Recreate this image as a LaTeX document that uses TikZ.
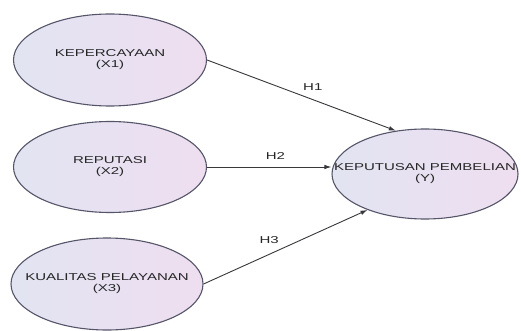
\documentclass[tikz,border=0pt]{standalone}
\usepackage{fontspec}
\setsansfont[FakeStretch=1.5]{Liberation Sans}
\usetikzlibrary{shapes.geometric,arrows.meta}
\definecolor{lavleft}{RGB}{226,228,242}
\definecolor{lavright}{RGB}{238,222,240}
\definecolor{rim}{RGB}{85,85,105}
\definecolor{wire}{RGB}{55,55,60}

\begin{document}
\begin{tikzpicture}[x=1pt,y=-1pt,
    latent/.style={ellipse, draw=rim, line width=1.1pt, left color=lavleft, right color=lavright, inner sep=0pt},
    vartext/.style={align=center, inner sep=0pt, text=black!85, font=\sffamily\fontsize{10}{11}\selectfont},
    hyp/.style={draw=wire, line width=0.9pt, -{Latex[length=7pt,width=4.5pt]}},
    hlabel/.style={inner sep=0pt, text=black!85, font=\sffamily\fontsize{10}{11}\selectfont}]
    \useasboundingbox (0,0) rectangle (521,331);
    % exogenous variables
    \node[latent, minimum width=193pt, minimum height=92pt] (k1) at (110,60) {};
    \node[vartext] (k1text) at (k1) {KEPERCAYAAN\\(X1)};
    \node[latent, minimum width=193pt, minimum height=91pt] (k2) at (110,167) {};
    \node[vartext] (k2text) at (k2) {REPUTASI\\(X2)};
    \node[latent, minimum width=192pt, minimum height=92pt] (k3) at (107,284) {};
    \node[vartext] (k3text) at (k3) {KUALITAS PELAYANAN\\(X3)};
    % endogenous variable
    \node[latent, minimum width=186pt, minimum height=90pt] (y) at (425,174) {};
    \node[vartext] (ytext) at (y) {KEPUTUSAN PEMBELIAN\\(Y)};
    % hypotheses
    \draw[hyp] (k1.east) -- node[hlabel, pos=0.56, above=9pt] (h1) {H1} (y.124);
    \draw[hyp] (k2.east) -- node[hlabel, pos=0.55, above=7pt] (h2) {H2} (k2.east -| y.west);
    \draw[hyp] (k3.east) -- node[hlabel, pos=0.40, above=10pt] (h3) {H3} (y.212);
\end{tikzpicture}
\end{document}
